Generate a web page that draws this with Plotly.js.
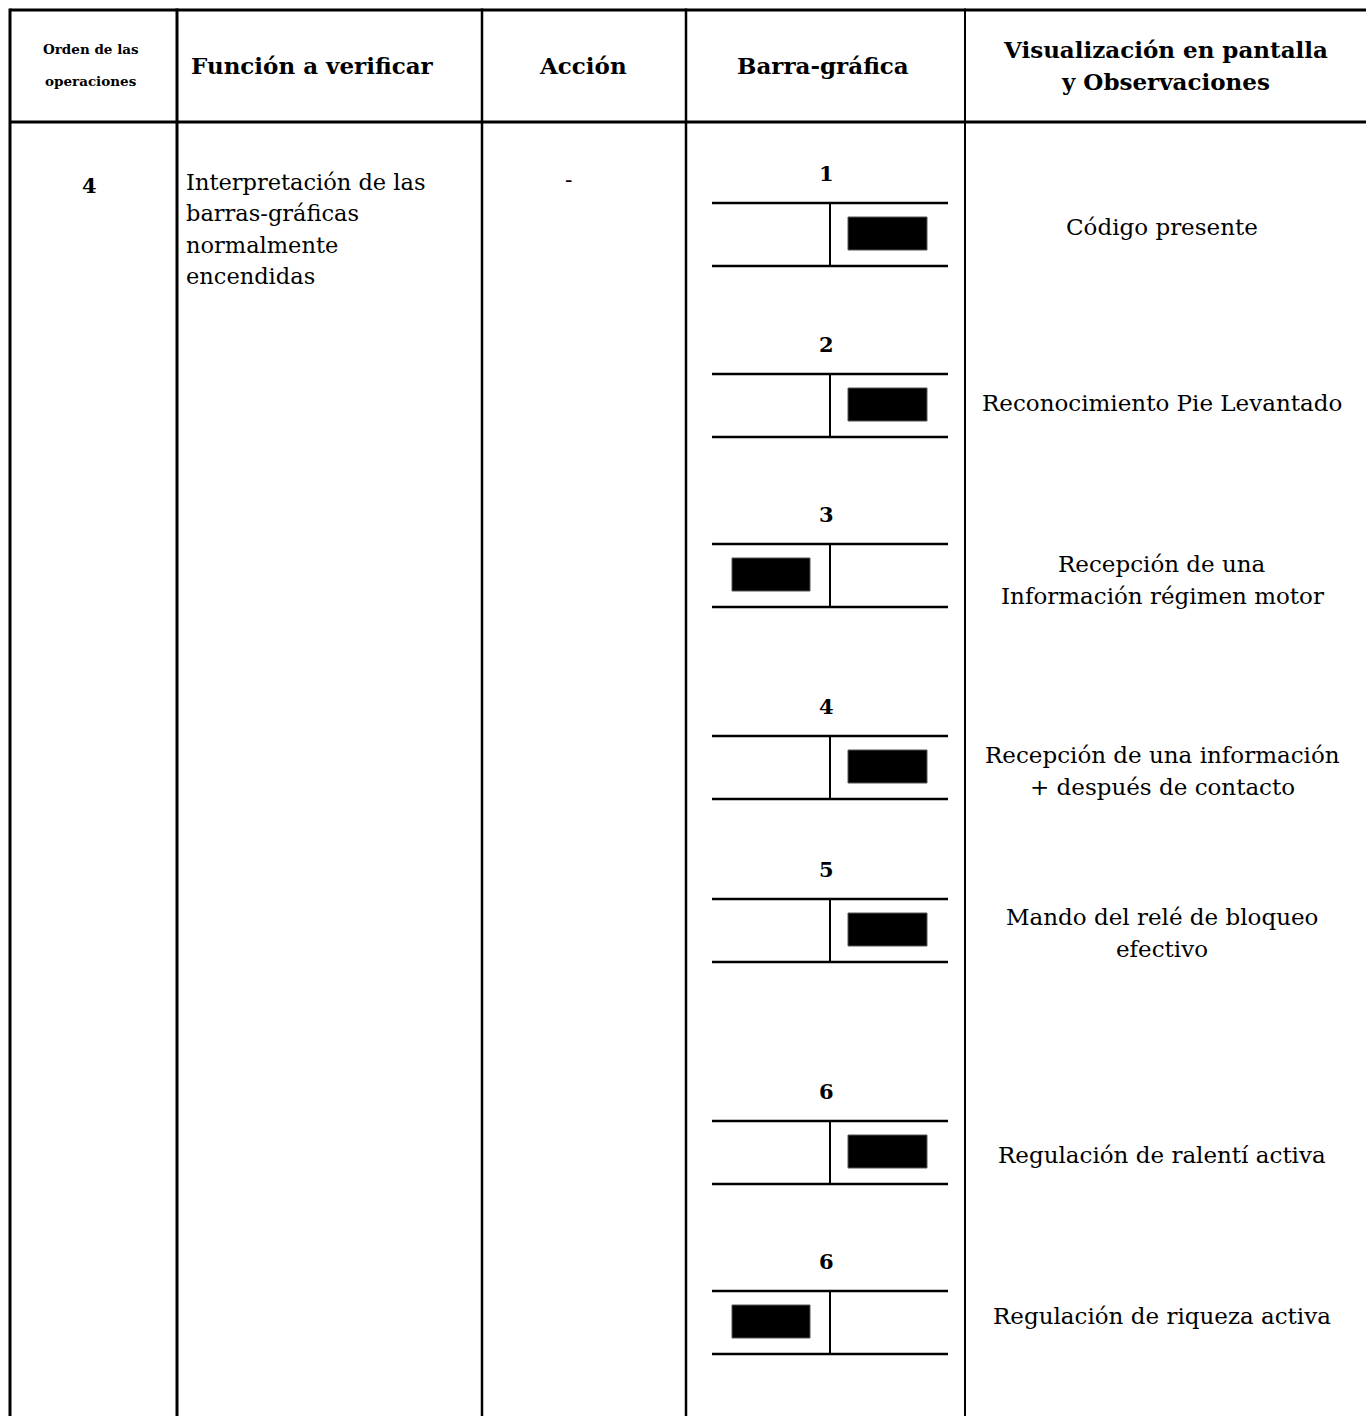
<!DOCTYPE html>
<html>
<head>
<meta charset="utf-8">
<script src="https://cdn.plot.ly/plotly-3.0.1.min.js"></script>
<style>html,body{margin:0;padding:0;background:#fff;}#chart{width:1366px;height:1416px;}</style>
</head>
<body>
<div id="chart"></div>
<script>
// ---------- data ----------
const headers = [
  ["Orden de las", "operaciones"],
  ["Función a verificar"],
  ["Acción"],
  ["Barra-gráfica"],
  ["Visualización en pantalla", "y Observaciones"]
];
const operationOrder = "4";
const functionLines = ["Interpretación de las", "barras-gráficas", "normalmente", "encendidas"];
const actionText = "-";
const barNumbers = ["1", "2", "3", "4", "5", "6", "6"];
const barLitSide = ["right", "right", "left", "right", "right", "right", "left"];
const observations = [
  ["Código presente"],
  ["Reconocimiento Pie Levantado"],
  ["Recepción de una", "Información régimen motor"],
  ["Recepción de una información", "+ después de contacto"],
  ["Mando del relé de bloqueo", "efectivo"],
  ["Regulación de ralentí activa"],
  ["Regulación de riqueza activa"]
];

// ---------- layout geometry (pixel space) ----------
const W = 1366, H = 1416;
const colX = [10, 177, 482, 686, 965];
const colW = [3, 3, 2.5, 2.5, 2];
const tableTop = 10, headerBottom = 122;
const blockTop = [203, 374, 544, 736, 899, 1121, 1291];
const obsY = [227, 403, 580, 771, 933, 1155, 1316];
const blockH = 63;
const barLeft = 712, barRight = 948, barDivider = 830;
const litRight = [848, 927], litLeft = [732, 810];
const litTopOff = 14, litBotOff = 47;

const serif = "DejaVu Serif, Liberation Serif, serif";

const shapes = [];
const annotations = [];

function line(x0, y0, x1, y1, w) {
  shapes.push({type: "line", xref: "x", yref: "y", x0, y0, x1, y1,
    line: {color: "#000", width: w}});
}
function text(str, x, y, size, anchor, bold) {
  annotations.push({xref: "x", yref: "y", x, y, text: bold ? "<b>" + str + "</b>" : str,
    showarrow: false, xanchor: anchor || "center", yanchor: "middle",
    align: anchor === "left" ? "left" : "center", borderpad: 0,
    font: {family: serif, size, color: "#000"}});
}
function textBlock(lines, x, yCenter, spacing, size, anchor, bold) {
  const n = lines.length;
  lines.forEach((ln, i) => text(ln, x, yCenter + (i - (n - 1) / 2) * spacing, size, anchor, bold));
}

// table grid
line(colX[0], tableTop, W, tableTop, 3);
line(colX[0], headerBottom, W, headerBottom, 3);
colX.forEach((x, i) => line(x, tableTop - 1.5, x, H, colW[i]));

// headers
const headerCenters = [91, 312, 583, 823, 1165];
const headerSizes = [13.5, 23, 23, 23, 23];
headers.forEach((h, i) => {
  textBlock(h, headerCenters[i], 65, 32, headerSizes[i], "center", true);
});

// first columns
text(operationOrder, 89, 185, 21, "center", true);
textBlock(functionLines, 185, 229, 31.3, 22.5, "left", false);
text(actionText, 568, 179, 22, "center", false);

// bar graphs
barNumbers.forEach((num, i) => {
  const t = blockTop[i], b = t + blockH;
  text(num, 826, t - 30, 21, "center", true);
  line(barLeft, t, barRight, t, 2.5);
  line(barLeft, b, barRight, b, 2.5);
  line(barDivider, t, barDivider, b, 2);
  const r = barLitSide[i] === "right" ? litRight : litLeft;
  shapes.push({type: "rect", xref: "x", yref: "y", x0: r[0], x1: r[1],
    y0: t + litTopOff, y1: t + litBotOff, fillcolor: "#000",
    line: {color: "#555", width: 1}});
  // observation text
  textBlock(observations[i], 1162, obsY[i], 32, 23, "center", false);
});

const layout = {
  width: W, height: H,
  margin: {l: 0, r: 0, t: 0, b: 0, pad: 0},
  paper_bgcolor: "#fff", plot_bgcolor: "#fff",
  xaxis: {range: [0, W], visible: false, fixedrange: true},
  yaxis: {range: [H, 0], visible: false, fixedrange: true},
  showlegend: false,
  shapes, annotations
};
Plotly.newPlot("chart", [{x: [], y: [], type: "scatter", mode: "markers", hoverinfo: "skip"}], layout,
  {staticPlot: true, displayModeBar: false});
</script>
</body>
</html>
